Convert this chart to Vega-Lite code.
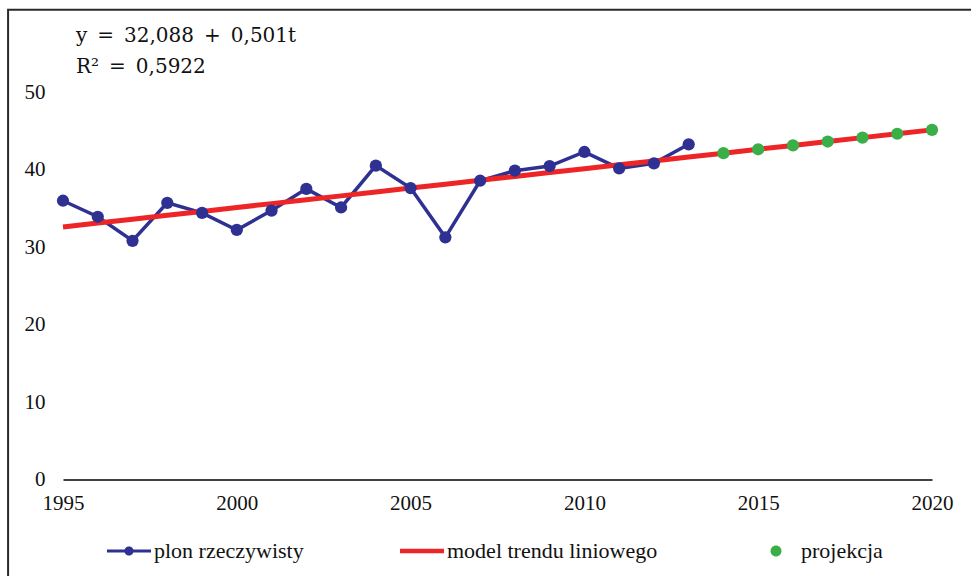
{
  "$schema": "https://vega.github.io/schema/vega-lite/v6.json",
  "width": 869,
  "height": 387.5,
  "autosize": {"type": "none"},
  "padding": {"left": 63, "top": 92, "right": 39, "bottom": 96.5},
  "background": "white",
  "config": {
    "view": {"stroke": null},
    "axis": {"labelFont": "Liberation Serif, Times New Roman, serif", "labelFontSize": 21, "labelColor": "#111", "title": null},
    "legend": {"labelFont": "Liberation Serif, Times New Roman, serif", "labelFontSize": 22, "labelColor": "#111", "labelLimit": 400}
  },
  "title": {
    "text": ["y\u2002=\u200232,088\u2002+\u20020,501t", "R²\u2002=\u20020,5922"],
    "anchor": "start",
    "frame": "group",
    "font": "DejaVu Serif",
    "fontSize": 20,
    "fontWeight": "normal",
    "color": "#111",
    "lineHeight": 31,
    "dx": 13,
    "offset": -68
  },
  "datasets": {
    "actual": [
      {"year": 1995, "value": 35.97}, {"year": 1996, "value": 33.9}, {"year": 1997, "value": 30.8},
      {"year": 1998, "value": 35.7}, {"year": 1999, "value": 34.4}, {"year": 2000, "value": 32.2},
      {"year": 2001, "value": 34.7}, {"year": 2002, "value": 37.5}, {"year": 2003, "value": 35.1},
      {"year": 2004, "value": 40.5}, {"year": 2005, "value": 37.6}, {"year": 2006, "value": 31.25},
      {"year": 2007, "value": 38.55}, {"year": 2008, "value": 39.85}, {"year": 2009, "value": 40.45},
      {"year": 2010, "value": 42.26}, {"year": 2011, "value": 40.15}, {"year": 2012, "value": 40.8},
      {"year": 2013, "value": 43.25}
    ],
    "trend": [
      {"year": 1995, "value": 32.589}, {"year": 1996, "value": 33.09}, {"year": 1997, "value": 33.591},
      {"year": 1998, "value": 34.092}, {"year": 1999, "value": 34.593}, {"year": 2000, "value": 35.094},
      {"year": 2001, "value": 35.595}, {"year": 2002, "value": 36.096}, {"year": 2003, "value": 36.597},
      {"year": 2004, "value": 37.098}, {"year": 2005, "value": 37.599}, {"year": 2006, "value": 38.1},
      {"year": 2007, "value": 38.601}, {"year": 2008, "value": 39.102}, {"year": 2009, "value": 39.603},
      {"year": 2010, "value": 40.104}, {"year": 2011, "value": 40.605}, {"year": 2012, "value": 41.106},
      {"year": 2013, "value": 41.607}, {"year": 2014, "value": 42.108}, {"year": 2015, "value": 42.609},
      {"year": 2016, "value": 43.11}, {"year": 2017, "value": 43.611}, {"year": 2018, "value": 44.112},
      {"year": 2019, "value": 44.613}, {"year": 2020, "value": 45.114}
    ],
    "proj": [
      {"year": 2014, "value": 42.108}, {"year": 2015, "value": 42.609}, {"year": 2016, "value": 43.11},
      {"year": 2017, "value": 43.611}, {"year": 2018, "value": 44.112}, {"year": 2019, "value": 44.613},
      {"year": 2020, "value": 45.114}
    ]
  },
  "layer": [
    {
      "data": {"values": [{}]},
      "mark": {"type": "rect", "fill": "transparent", "stroke": "#2a2a2a", "strokeWidth": 2, "clip": false},
      "encoding": {
        "x": {"datum": 1993.42, "type": "quantitative"},
        "x2": {"datum": 2021.6},
        "y": {"datum": 60.6, "type": "quantitative"},
        "y2": {"datum": -16}
      }
    },
    {
      "data": {"name": "actual"},
      "transform": [{"calculate": "'plon rzeczywisty'", "as": "series"}],
      "mark": {"type": "line", "strokeWidth": 3.5},
      "encoding": {
        "x": {
          "field": "year", "type": "quantitative",
          "scale": {"domain": [1995, 2020], "nice": false, "zero": false},
          "axis": {
            "values": [1995, 2000, 2005, 2010, 2015, 2020], "format": "d",
            "grid": false, "ticks": false, "labelPadding": 13,
            "domainColor": "#404040", "domainWidth": 2,
            "labelFlush": false, "labelOverlap": false
          }
        },
        "y": {
          "field": "value", "type": "quantitative",
          "scale": {"domain": [0, 50], "nice": false},
          "axis": {
            "values": [0, 10, 20, 30, 40, 50], "domain": false, "ticks": false,
            "labelPadding": 18, "gridColor": "#a8a8a8", "gridDash": [3, 2], "gridWidth": 1
          }
        },
        "color": {
          "field": "series", "type": "nominal",
          "scale": {
            "domain": ["plon rzeczywisty", "model trendu liniowego", "projekcja"],
            "range": ["#2E3192", "#EE2526", "#3AAF48"]
          },
          "legend": {
            "title": null,
            "orient": "none",
            "legendX": 44,
            "legendY": 437,
            "direction": "horizontal",
            "columns": 3,
            "columnPadding": 96,
            "labelOffset": 3,
            "labelLimit": 400,
            "symbolSize": 1936,
            "symbolStrokeWidth": 0,
            "symbolOpacity": 1,
            "encode": {
              "symbols": {
                "update": {
                  "shape": {"signal": "datum.value === 'projekcja' ? 'M-0.25,0A0.25,0.25 0 1,1 0.25,0A0.25,0.25 0 1,1 -0.25,0Z' : datum.value === 'plon rzeczywisty' ? 'M-1,-0.07L1,-0.07L1,0.07L-1,0.07Z M-0.21,0A0.21,0.21 0 1,1 0.21,0A0.21,0.21 0 1,1 -0.21,0Z' : 'M-1,-0.1L1,-0.1L1,0.1L-1,0.1Z'"},
                  "fill": {"signal": "datum.value === 'projekcja' ? '#3AAF48' : datum.value === 'plon rzeczywisty' ? '#2E3192' : '#EE2526'"},
                  "stroke": {"value": "transparent"},
                  "strokeWidth": {"value": 0},
                  "opacity": {"value": 1},
                  "size": {"value": 1936}
                }
              }
            }
          }
        }
      }
    },
    {
      "data": {"name": "trend"},
      "transform": [{"calculate": "'model trendu liniowego'", "as": "series"}],
      "mark": {"type": "line", "strokeWidth": 5},
      "encoding": {
        "x": {"field": "year", "type": "quantitative"},
        "y": {"field": "value", "type": "quantitative"},
        "color": {"field": "series", "type": "nominal"}
      }
    },
    {
      "data": {"name": "actual"},
      "mark": {"type": "point", "filled": true, "size": 150, "opacity": 1, "color": "#2E3192"},
      "encoding": {
        "x": {"field": "year", "type": "quantitative"},
        "y": {"field": "value", "type": "quantitative"}
      }
    },
    {
      "data": {"name": "proj"},
      "transform": [{"calculate": "'projekcja'", "as": "series"}],
      "mark": {"type": "point", "filled": true, "size": 150, "opacity": 1},
      "encoding": {
        "x": {"field": "year", "type": "quantitative"},
        "y": {"field": "value", "type": "quantitative"},
        "color": {"field": "series", "type": "nominal"}
      }
    }
  ]
}
